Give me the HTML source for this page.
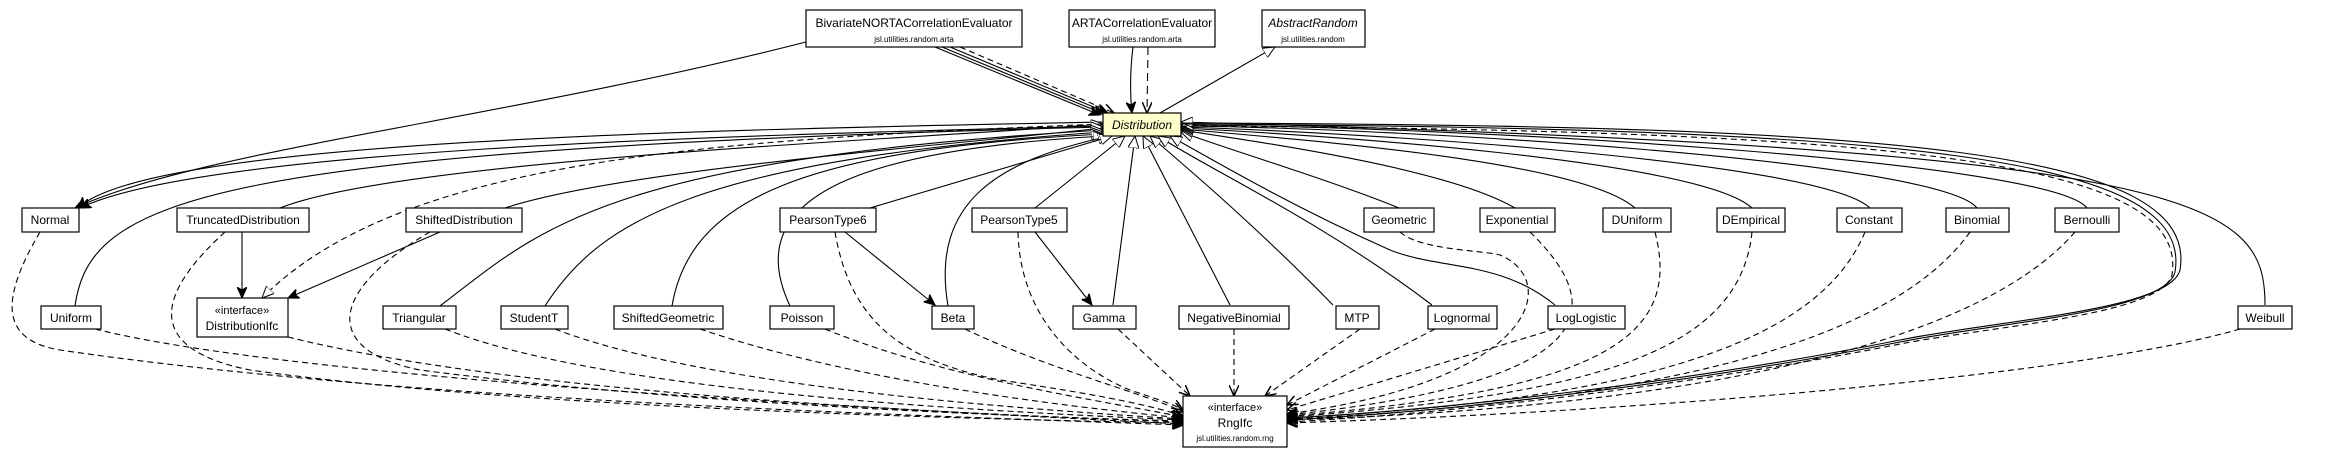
<!DOCTYPE html>
<html><head><meta charset="utf-8"><style>
html,body{margin:0;padding:0;background:#fff;}
svg{display:block;}
text{font-family:"Liberation Sans",Arial,sans-serif;}
</style></head><body>
<svg width="2333" height="459" viewBox="0 0 2333 459" xmlns="http://www.w3.org/2000/svg">
<defs>
<marker id="v" viewBox="0 0 12 10" refX="11" refY="5" markerWidth="12" markerHeight="10" markerUnits="userSpaceOnUse" orient="auto"><path d="M0,0 L11,5 L0,10" fill="none" stroke="#000" stroke-width="1.5"/></marker>
<marker id="f" viewBox="0 0 12 10" refX="11" refY="5" markerWidth="12" markerHeight="10" markerUnits="userSpaceOnUse" orient="auto"><path d="M0,0 L11,5 L0,10 L3,5 z" fill="#000" stroke="#000"/></marker>
<marker id="t" viewBox="0 0 13 11" refX="12" refY="5.5" markerWidth="13" markerHeight="11" markerUnits="userSpaceOnUse" orient="auto"><path d="M0,0 L12,5.5 L0,11 z" fill="#fff" stroke="#000"/></marker>
</defs>
<g fill="none" stroke="#000" stroke-width="1.1">
<!-- top -->
<path d="M806,42 C500,120 200,150 75,208" marker-end="url(#f)"/>
<path d="M935,47 L1100,115" marker-end="url(#f)"/>
<path d="M942,47 L1104,114" marker-end="url(#f)"/>
<path d="M950,47 L1108,113" marker-end="url(#f)"/>
<path d="M960,47 L1114,113" stroke-dasharray="6,4" marker-end="url(#v)"/>
<path d="M1133,47 C1130,70 1130,95 1132,113" marker-end="url(#f)"/>
<path d="M1148,47 L1147,113" stroke-dasharray="8,5" marker-end="url(#v)"/>
<path d="M1160,113 L1275,47" marker-end="url(#t)"/>
<!-- to Normal -->
<path d="M1103,122 C700,130 150,140 78,208" marker-end="url(#f)"/>
<path d="M1103,126 C700,136 200,150 80,208" marker-end="url(#f)"/>
<!-- generalizations row1 left -->
<path d="M280,208 C400,160 900,140 1103,124" marker-end="url(#t)"/>
<path d="M505,208 C620,170 950,145 1103,128" marker-end="url(#t)"/>
<path d="M1103,124 C700,140 400,160 262,298" stroke-dasharray="6,4" marker-end="url(#t)"/>
<path d="M242,232 L242,298" marker-end="url(#f)"/>
<path d="M440,232 L288,298" marker-end="url(#f)"/>
<!-- row2 generalizations -->
<path d="M75,306 C90,200 200,150 1103,127" marker-end="url(#t)"/>
<path d="M440,306 C540,230 600,160 1103,130" marker-end="url(#t)"/>
<path d="M545,306 C600,220 700,160 1103,132" marker-end="url(#t)"/>
<path d="M672,306 C690,200 800,150 1103,134" marker-end="url(#t)"/>
<path d="M790,306 C740,200 850,150 1105,136" marker-end="url(#t)"/>
<path d="M948,306 C930,200 1000,160 1110,136" marker-end="url(#t)"/>
<path d="M870,208 L1112,136" marker-end="url(#t)"/>
<path d="M1035,208 L1125,136" marker-end="url(#t)"/>
<path d="M845,232 L935,305" marker-end="url(#f)"/>
<path d="M1035,232 L1092,305" marker-end="url(#f)"/>
<path d="M1113,305 L1135,136" marker-end="url(#t)"/>
<path d="M1230,305 L1143,136" marker-end="url(#t)"/>
<path d="M1333,305 C1260,230 1190,170 1150,136" marker-end="url(#t)"/>
<path d="M1432,305 C1320,220 1210,170 1158,136" marker-end="url(#t)"/>
<path d="M1555,305 C1500,260 1440,270 1390,250 C1300,210 1230,170 1170,136" marker-end="url(#t)"/>
<!-- row1 right generalizations -->
<path d="M1399,208 C1330,180 1230,150 1181,132" marker-end="url(#t)"/>
<path d="M1515,208 C1450,170 1280,145 1181,130" marker-end="url(#t)"/>
<path d="M1635,208 C1580,160 1300,140 1181,129" marker-end="url(#t)"/>
<path d="M1752,208 C1700,160 1320,135 1181,128" marker-end="url(#t)"/>
<path d="M1870,208 C1820,160 1350,132 1181,127" marker-end="url(#t)"/>
<path d="M1977,208 C1940,160 1400,128 1181,126" marker-end="url(#t)"/>
<path d="M2087,208 C2050,160 1450,126 1181,125" marker-end="url(#t)"/>
<path d="M2265,305 C2265,200 2200,150 1181,122" marker-end="url(#t)"/>
<!-- Distribution to RngIfc big curve -->
<path d="M1181,123 C1900,125 2200,150 2180,270 C2170,310 2000,320 1900,340 C1700,380 1450,410 1287,418" marker-end="url(#f)"/>
<path d="M1181,124 C1900,128 2195,155 2175,272 C2165,312 2000,322 1900,342 C1700,382 1450,412 1287,420" marker-end="url(#f)"/>
<path d="M1181,126 C1900,130 2190,160 2172,275 C2160,315 2000,325 1900,344 C1700,384 1450,414 1287,422" stroke-dasharray="6,4" marker-end="url(#v)"/>
</g>
<g fill="none" stroke="#000" stroke-width="1.1" stroke-dasharray="6,4">
<path d="M40,232 C0,300 0,340 60,350 C400,400 900,415 1183,425" marker-end="url(#v)"/>
<path d="M95,329 C300,380 900,410 1183,424" marker-end="url(#v)"/>
<path d="M225,232 C150,300 150,350 250,370 C500,405 900,418 1183,423" marker-end="url(#v)"/>
<path d="M288,337 C500,390 900,412 1183,422" marker-end="url(#v)"/>
<path d="M430,232 C330,290 320,350 420,370 C650,400 950,415 1183,421" marker-end="url(#v)"/>
<path d="M445,329 C600,390 950,410 1183,420" marker-end="url(#v)"/>
<path d="M555,329 C700,385 1000,408 1183,419" marker-end="url(#v)"/>
<path d="M700,329 C850,380 1050,405 1183,418" marker-end="url(#v)"/>
<path d="M825,329 C950,380 1100,400 1183,417" marker-end="url(#v)"/>
<path d="M835,232 C850,320 900,360 1000,380 C1100,395 1150,405 1183,416" marker-end="url(#v)"/>
<path d="M965,329 C1050,370 1150,395 1183,412" marker-end="url(#v)"/>
<path d="M1018,232 C1020,320 1080,370 1130,390 C1160,400 1175,405 1183,410" marker-end="url(#v)"/>
<path d="M1118,329 L1190,396" marker-end="url(#v)"/>
<path d="M1234,329 L1234,396" marker-end="url(#v)"/>
<path d="M1360,329 L1265,396" marker-end="url(#v)"/>
<path d="M1435,329 L1287,405" marker-end="url(#v)"/>
<path d="M1555,329 L1287,410" marker-end="url(#v)"/>
<path d="M1400,232 C1420,250 1480,250 1500,255 C1560,280 1540,380 1287,414" marker-end="url(#v)"/>
<path d="M1530,232 C1600,300 1620,380 1287,415" marker-end="url(#v)"/>
<path d="M1655,232 C1680,330 1620,390 1287,416" marker-end="url(#v)"/>
<path d="M1752,232 C1740,350 1600,395 1287,417" marker-end="url(#v)"/>
<path d="M1865,232 C1820,340 1650,400 1287,418" marker-end="url(#v)"/>
<path d="M1970,232 C1900,330 1700,400 1287,419" marker-end="url(#v)"/>
<path d="M2075,232 C1990,330 1750,405 1287,420" marker-end="url(#v)"/>
<path d="M2240,329 C2100,370 1700,410 1287,423" marker-end="url(#v)"/>
</g>
<g font-size="12" text-anchor="middle">
<g stroke="#000" stroke-width="1.2" fill="#fff">
<rect x="806" y="10" width="216" height="37"/>
<rect x="1069" y="10" width="146" height="37"/>
<rect x="1262" y="10" width="103" height="37"/>
<rect x="1103" y="113" width="78" height="23" fill="#ffffcc"/>
<rect x="22" y="208" width="57" height="24"/>
<rect x="177" y="208" width="132" height="24"/>
<rect x="406" y="208" width="116" height="24"/>
<rect x="780" y="208" width="96" height="24"/>
<rect x="972" y="208" width="95" height="24"/>
<rect x="1364" y="208" width="70" height="24"/>
<rect x="1480" y="208" width="75" height="24"/>
<rect x="1603" y="208" width="68" height="24"/>
<rect x="1717" y="208" width="68" height="24"/>
<rect x="1837" y="208" width="65" height="24"/>
<rect x="1946" y="208" width="63" height="24"/>
<rect x="2055" y="208" width="64" height="24"/>
<rect x="41" y="306" width="60" height="23"/>
<rect x="197" y="298" width="91" height="39"/>
<rect x="383" y="306" width="73" height="23"/>
<rect x="501" y="306" width="67" height="23"/>
<rect x="614" y="306" width="109" height="23"/>
<rect x="770" y="306" width="64" height="23"/>
<rect x="932" y="306" width="42" height="23"/>
<rect x="1073" y="306" width="63" height="23"/>
<rect x="1179" y="306" width="110" height="23"/>
<rect x="1336" y="306" width="43" height="23"/>
<rect x="1428" y="306" width="69" height="23"/>
<rect x="1548" y="306" width="77" height="23"/>
<rect x="2238" y="306" width="54" height="23"/>
<rect x="1183" y="396" width="104" height="51"/>
</g>
<text x="914" y="27">BivariateNORTACorrelationEvaluator</text>
<text x="914" y="42" font-size="8">jsl.utilities.random.arta</text>
<text x="1142" y="27">ARTACorrelationEvaluator</text>
<text x="1142" y="42" font-size="8">jsl.utilities.random.arta</text>
<text x="1313" y="27" font-style="italic">AbstractRandom</text>
<text x="1313" y="42" font-size="8">jsl.utilities.random</text>
<text x="1142" y="129" font-style="italic">Distribution</text>
<text x="50" y="224">Normal</text>
<text x="243" y="224">TruncatedDistribution</text>
<text x="464" y="224">ShiftedDistribution</text>
<text x="828" y="224">PearsonType6</text>
<text x="1019" y="224">PearsonType5</text>
<text x="1399" y="224">Geometric</text>
<text x="1517" y="224">Exponential</text>
<text x="1637" y="224">DUniform</text>
<text x="1751" y="224">DEmpirical</text>
<text x="1869" y="224">Constant</text>
<text x="1977" y="224">Binomial</text>
<text x="2087" y="224">Bernoulli</text>
<text x="71" y="322">Uniform</text>
<text x="242" y="314" font-size="11">«interface»</text>
<text x="242" y="330">DistributionIfc</text>
<text x="419" y="322">Triangular</text>
<text x="534" y="322">StudentT</text>
<text x="668" y="322">ShiftedGeometric</text>
<text x="802" y="322">Poisson</text>
<text x="953" y="322">Beta</text>
<text x="1104" y="322">Gamma</text>
<text x="1234" y="322">NegativeBinomial</text>
<text x="1357" y="322">MTP</text>
<text x="1462" y="322">Lognormal</text>
<text x="1586" y="322">LogLogistic</text>
<text x="2265" y="322">Weibull</text>
<text x="1235" y="411" font-size="11">«interface»</text>
<text x="1235" y="427">RngIfc</text>
<text x="1235" y="441" font-size="8">jsl.utilities.random.rng</text>
</g>
</svg>
</body></html>
